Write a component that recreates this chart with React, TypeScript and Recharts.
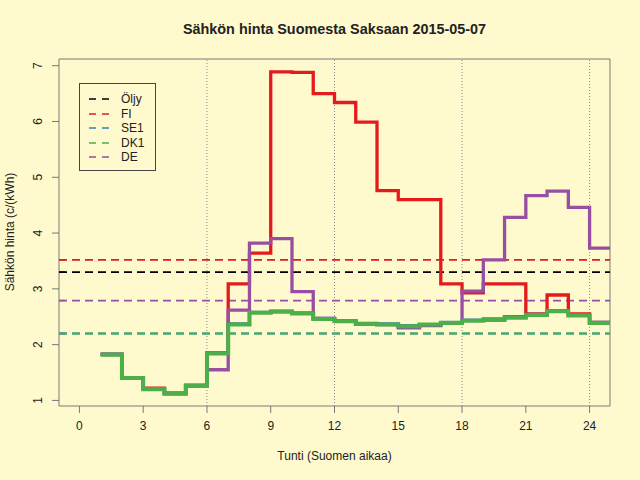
import { LineChart, Line, XAxis, YAxis, ReferenceLine, ReferenceArea } from 'recharts'

// hourly prices, c/kWh, hour h holds the price from h to h+1
const hours = [1, 2, 3, 4, 5, 6, 7, 8, 9, 10, 11, 12, 13, 14, 15, 16, 17, 18, 19, 20, 21, 22, 23, 24, 25]
const fi = [1.83, 1.4, 1.22, 1.13, 1.27, 1.85, 3.09, 3.64, 6.89, 6.88, 6.5, 6.34, 5.99, 4.76, 4.6, 4.6, 3.09, 2.93, 3.09, 3.09, 2.55, 2.89, 2.55, 2.4, 2.4]
const se1 = [1.83, 1.4, 1.21, 1.13, 1.27, 1.85, 2.37, 2.58, 2.6, 2.57, 2.47, 2.43, 2.38, 2.37, 2.34, 2.36, 2.4, 2.44, 2.46, 2.5, 2.54, 2.61, 2.53, 2.4, 2.4]
const dk1 = [1.82, 1.4, 1.2, 1.12, 1.26, 1.84, 2.36, 2.57, 2.59, 2.56, 2.46, 2.42, 2.37, 2.36, 2.33, 2.36, 2.39, 2.43, 2.44, 2.48, 2.53, 2.6, 2.52, 2.39, 2.39]
const de = [1.82, 1.4, 1.21, 1.12, 1.27, 1.55, 2.62, 3.82, 3.9, 2.95, 2.47, 2.42, 2.37, 2.36, 2.3, 2.34, 2.38, 2.96, 3.52, 4.28, 4.67, 4.75, 4.46, 3.73, 3.73]

// daily averages (dashed lines)
const legendNames = ['Öljy', 'FI', 'SE1', 'DK1', 'DE']
const averages = [3.3, 3.52, 2.2, 2.2, 2.79]
const colors = ['#000000', '#E41A1C', '#377EB8', '#4DAF4A', '#984EA3']

const xTicks = [0, 3, 6, 9, 12, 15, 18, 21, 24]
const yTicks = [1, 2, 3, 4, 5, 6, 7]
const dottedHours = [6, 12, 18, 24]

const xDomain: [number, number] = [-0.96, 24.96]
const yDomain: [number, number] = [0.9, 7.12]

const data = hours.map((hour, i) => ({ hour, FI: fi[i], SE1: se1[i], DK1: dk1[i], DE: de[i] }))

const font = '"Liberation Sans", Arial, Helvetica, sans-serif'
const bg = '#FFFACD'
const ink = '#222222'

const YTick = ({ y, payload }: any) => (
  <text
    transform={`translate(38, ${y}) rotate(-90)`}
    textAnchor="middle"
    dominantBaseline="central"
    fill={ink}
    fontSize={12}
    fontFamily={font}
  >
    {payload.value}
  </text>
)

export default function App() {
  return (
    <div style={{ position: 'absolute', left: 0, top: 0, width: 640, height: 480, background: bg, fontFamily: font }}>
      <LineChart width={640} height={480} data={data} margin={{ top: 59, right: 30, bottom: 0, left: 0 }}>
        <XAxis
          dataKey="hour"
          type="number"
          domain={xDomain}
          ticks={xTicks}
          allowDataOverflow
          axisLine={false}
          tickLine={{ stroke: '#777' }}
          tickSize={7}
          tickMargin={8}
          height={74}
          tick={{ fill: ink, fontSize: 12, fontFamily: font }}
        />
        <YAxis
          type="number"
          domain={yDomain}
          ticks={yTicks}
          allowDataOverflow
          axisLine={false}
          tickLine={{ stroke: '#777' }}
          tickSize={7}
          width={59}
          tick={<YTick />}
        />
        <ReferenceArea x1={xDomain[0]} x2={xDomain[1]} y1={yDomain[0]} y2={yDomain[1]} fill="none" stroke="#7a7a7a" strokeWidth={1} />
        {dottedHours.map((h) => (
          <ReferenceLine key={h} x={h} stroke="#8a8a8a" strokeDasharray="1 2" />
        ))}
        {averages.map((v, i) => (
          <ReferenceLine key={'avg' + i} y={v} stroke={colors[i]} strokeWidth={1.8} strokeDasharray="8 5" />
        ))}
        {averages.map((v, i) => (
          <ReferenceLine
            key={'rug' + i}
            segment={[{ x: xDomain[0], y: v }, { x: -0.68, y: v }]}
            stroke={colors[i]}
            strokeWidth={1.5}
          />
        ))}
        <Line type="stepAfter" dataKey="FI" stroke={colors[1]} strokeWidth={3.3} dot={false} activeDot={false} isAnimationActive={false} />
        <Line type="stepAfter" dataKey="SE1" stroke={colors[2]} strokeWidth={3.3} dot={false} activeDot={false} isAnimationActive={false} />
        <Line type="stepAfter" dataKey="DE" stroke={colors[4]} strokeWidth={3.3} dot={false} activeDot={false} isAnimationActive={false} />
        <Line type="stepAfter" dataKey="DK1" stroke={colors[3]} strokeWidth={4} dot={false} activeDot={false} isAnimationActive={false} />
      </LineChart>

      <div style={{ position: 'absolute', left: 0, top: 21, width: 669, textAlign: 'center', fontWeight: 'bold', fontSize: 14.4, color: ink }}>
        Sähkön hinta Suomesta Saksaan 2015-05-07
      </div>
      <div style={{ position: 'absolute', left: 0, top: 449, width: 669, textAlign: 'center', fontSize: 12, color: ink }}>
        Tunti (Suomen aikaa)
      </div>
      <div
        style={{
          position: 'absolute',
          left: 10,
          top: 232,
          transform: 'translate(-50%, -50%) rotate(-90deg)',
          whiteSpace: 'nowrap',
          fontSize: 12,
          color: ink,
        }}
      >
        Sähkön hinta (c/(kWh)
      </div>

      <div style={{ position: 'absolute', left: 79, top: 83, width: 75, height: 86, border: '1px solid #444', background: bg }}>
        {legendNames.map((name, i) => (
          <div key={name} style={{ position: 'absolute', left: 0, top: 8 + i * 14.5, height: 14, width: 75 }}>
            <svg width={30} height={14} style={{ position: 'absolute', left: 8, top: 0 }}>
              <line x1={1} y1={7} x2={21} y2={7} stroke={colors[i]} strokeWidth={1.6} strokeDasharray="7 6" />
            </svg>
            <span style={{ position: 'absolute', left: 41, top: 0, fontSize: 12, lineHeight: '14px', color: ink }}>{name}</span>
          </div>
        ))}
      </div>
    </div>
  )
}
